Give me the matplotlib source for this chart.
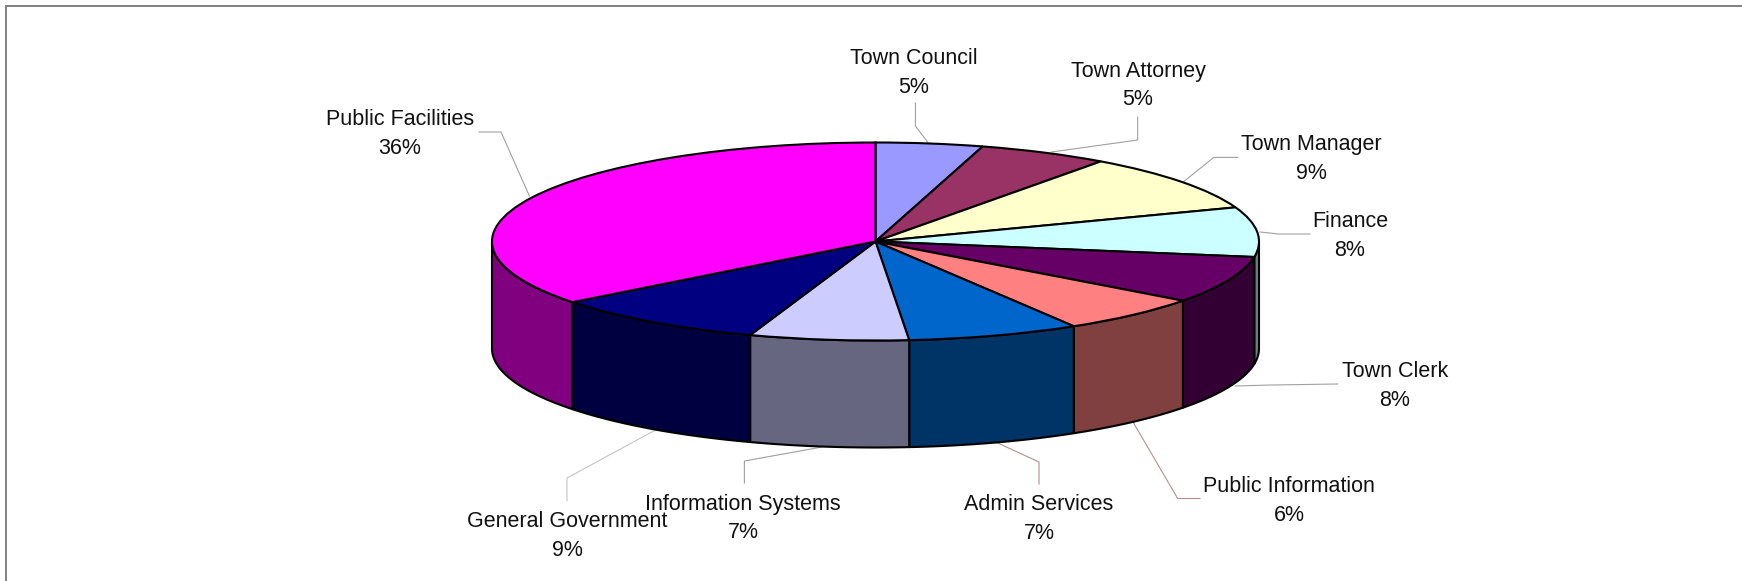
import numpy as np
import matplotlib
matplotlib.use("Agg")
import matplotlib.pyplot as plt
from matplotlib.patches import Polygon

plt.rcParams["font.family"] = ["Liberation Sans", "DejaVu Sans"]

# Budget shares by department, clockwise from twelve o'clock
departments = ["Town Council", "Town Attorney", "Town Manager", "Finance",
               "Town Clerk", "Public Information", "Admin Services",
               "Information Systems", "General Government", "Public Facilities"]
shares = [4.51, 5.49, 9.4, 8.1, 7.7, 6.15, 7.25, 6.7, 9.2, 35.5]

top_colors = ["#9999FF", "#993366", "#FFFFCC", "#CCFFFF", "#660066",
              "#FF8080", "#0066CC", "#CCCCFF", "#000080", "#FF00FF"]
side_colors = ["#4C4C80", "#4C1933", "#808066", "#668080", "#330033",
               "#804040", "#003366", "#666680", "#000040", "#800080"]

W, H = 1742, 581
CX, CY = 875.5, 241.5     # pie centre, pixels from top-left
RX, RY = 383.5, 99.0      # ellipse radii of the top face
DEPTH = 107.0             # height of the pie's rim


def to_data(px, py):
    return (px - CX) / RX, (CY - py) / RY


# Label block centres and leader paths, in pixels from top-left
label_pos = {
    "Town Council": (914, 73),
    "Town Attorney": (1138, 85.5),
    "Town Manager": (1311.5, 159),
    "Finance": (1350, 236),
    "Town Clerk": (1395, 386),
    "Public Information": (1289, 501),
    "Admin Services": (1039, 519),
    "Information Systems": (743, 518.5),
    "General Government": (567, 536),
    "Public Facilities": (400, 134),
}
leaders = {
    "Town Council": [(915.4, 103), (915.4, 126), (928, 142.6)],
    "Town Attorney": [(1137.7, 117), (1137.7, 140), (1051.5, 152)],
    "Town Manager": [(1237.7, 157.4), (1213.8, 157.4), (1183.8, 181.5)],
    "Finance": [(1310, 234), (1279, 234), (1260, 232)],
    "Town Clerk": [(1337.7, 384), (1271, 385), (1235, 386)],
    "Public Information": [(1200, 498.5), (1177.7, 498.5), (1133, 422)],
    "Admin Services": [(1039, 484), (1039, 462), (997.7, 443)],
    "Information Systems": [(744.4, 483), (744.4, 461), (822, 447)],
    "General Government": [(567, 500.7), (567, 478), (655.5, 430)],
    "Public Facilities": [(479, 132), (501, 132), (529.4, 196)],
}
leader_colors = {"Public Information": "#B09090", "Admin Services": "#B09090",
                 "General Government": "#C4C4C4"}

fig = plt.figure(figsize=(W / 100, H / 100), dpi=100, facecolor="white")
ax = fig.add_axes([0, 0, 1, 1])

# Top face
ax.pie(shares, colors=top_colors, startangle=90, counterclock=False, radius=1,
       center=(0, 0), frame=False,
       wedgeprops=dict(edgecolor="black", linewidth=1.5, zorder=4))

# Rim: each slice contributes the part of its arc on the front half
depth = DEPTH / RY
edges = np.concatenate([[0], np.cumsum(shares)]) / np.sum(shares) * 360
for start, stop, color in zip(edges[:-1], edges[1:], side_colors):
    lo, hi = max(start, 90), min(stop, 270)
    if hi <= lo:
        continue
    theta = np.radians(np.linspace(lo, hi, 80))
    x, y = np.sin(theta), np.cos(theta)
    verts = np.vstack([np.column_stack([x, y]),
                       np.column_stack([x[::-1], y[::-1] - depth])])
    ax.add_patch(Polygon(verts, closed=True, facecolor=color, edgecolor="black",
                         linewidth=1.5, zorder=3, joinstyle="round"))

# Leader lines
for name, path in leaders.items():
    pts = np.array([to_data(*p) for p in path])
    ax.plot(pts[:, 0], pts[:, 1], color=leader_colors.get(name, "#A0A0A0"),
            linewidth=0.8, zorder=2, solid_joinstyle="miter")

# Department name and rounded share
for name, share in zip(departments, shares):
    x, y = to_data(*label_pos[name])
    ax.text(x, y, f"{name}\n{share:.0f}%", ha="center", va="center",
            fontsize=15.5, color="#111111", linespacing=1.45, zorder=5)

# Chart frame along the top and left
for path in ([(6, H), (6, 6.3), (W, 6.3)],):
    pts = np.array([to_data(*p) for p in path])
    ax.plot(pts[:, 0], pts[:, 1], color="#808080", linewidth=1.4, zorder=1,
            solid_joinstyle="miter", clip_on=True)

ax.set_aspect("auto")
ax.set_xlim(to_data(0, 0)[0], to_data(W, 0)[0])
ax.set_ylim(to_data(0, H)[1], to_data(0, 0)[1])
ax.axis("off")

fig.savefig("out.png", dpi=100)
